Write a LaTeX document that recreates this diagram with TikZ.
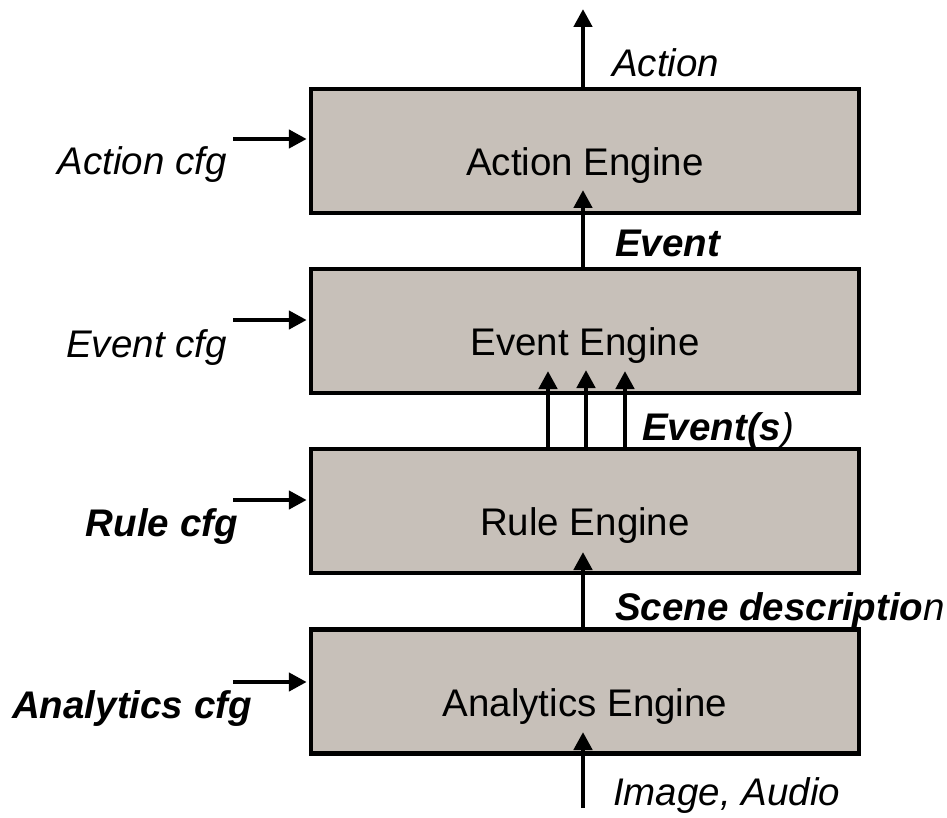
\documentclass[tikz,border=0pt]{standalone}
\usepackage{fontspec}
\setmainfont{Liberation Sans}
\usetikzlibrary{arrows.meta}
\definecolor{boxfill}{RGB}{199,192,185}
\tikzset{
  engine/.style={draw=black, line width=4.5pt, fill=boxfill, rectangle,
    minimum width=548pt, minimum height=124pt, inner sep=0pt},
  txt/.style={inner sep=0pt, font=\fontsize{38.5pt}{46pt}\selectfont},
  arr/.style={line width=4.5pt, -{Triangle[length=18pt,width=18pt]}},
}
\begin{document}
\begin{tikzpicture}[x=1pt,y=-1pt]
\useasboundingbox (0,0) rectangle (947,818);
% boxes
\node[engine] (A) at (585,151) {};
\node[engine] (E) at (585,331) {};
\node[engine] (R) at (585,511) {};
\node[engine] (N) at (585,691.5) {};
% box texts
\node[txt, anchor=base] (At) at ([yshift=-89pt]A.north) {Action Engine};
\node[txt, anchor=base] (Et) at ([yshift=-89pt]E.north) {Event Engine};
\node[txt, anchor=base] (Rt) at ([yshift=-89pt]R.north) {Rule Engine};
\node[txt, anchor=base] (Nt) at ([yshift=-89pt]N.north) {Analytics Engine};
% vertical connector coordinates
\coordinate (top) at (583,9);
\coordinate (tipA) at (583,190);
\coordinate (tipE1) at (548,371);
\coordinate (tipE2) at (586,370);
\coordinate (tipE3) at (625,371);
\coordinate (tipR) at (583,552);
\coordinate (tipN) at (583,732);
\coordinate (bot) at (583,808);
\draw[arr] (top |- A.north) -- (top);
\draw[arr] (tipA |- E.north) -- (tipA);
\draw[arr] (tipE1 |- R.north) -- (tipE1);
\draw[arr] (tipE2 |- R.north) -- (tipE2);
\draw[arr] (tipE3 |- R.north) -- (tipE3);
\draw[arr] (tipR |- N.north) -- (tipR);
\draw[arr] (bot) -- (tipN);
% left cfg arrows
\coordinate (ca) at (233,139);
\coordinate (ce) at (233,320);
\coordinate (cr) at (233,500);
\coordinate (cn) at (233,682);
\draw[arr, shorten >=2pt] (ca) -- (ca -| A.west);
\draw[arr, shorten >=2pt] (ce) -- (ce -| E.west);
\draw[arr, shorten >=2pt] (cr) -- (cr -| R.west);
\draw[arr, shorten >=2pt] (cn) -- (cn -| N.west);
% left labels
\node[txt, anchor=base east] (la) at (227,175) {\itshape Action cfg};
\node[txt, anchor=base east] (le) at (227,357) {\itshape Event cfg};
\node[txt, anchor=base east] (lr) at (238,536) {\bfseries\itshape Rule cfg};
\node[txt, anchor=base east] (ln) at (252,718) {\bfseries\itshape Analytics cfg};
% right labels
\node[txt, anchor=base west] (ra) at (612,77) {\itshape Action};
\node[txt, anchor=base west] (re) at (615,257) {\bfseries\itshape Event};
\node[txt, anchor=base west] (rs) at (642,440) {{\bfseries\itshape Event(s}{\itshape )}};
\node[txt, anchor=base west] (rd) at (615,620) {{\bfseries\itshape Scene descriptio}{\itshape n}};
\node[txt, anchor=base west] (ri) at (613,805) {\itshape Image, Audio};
\end{tikzpicture}
\end{document}
